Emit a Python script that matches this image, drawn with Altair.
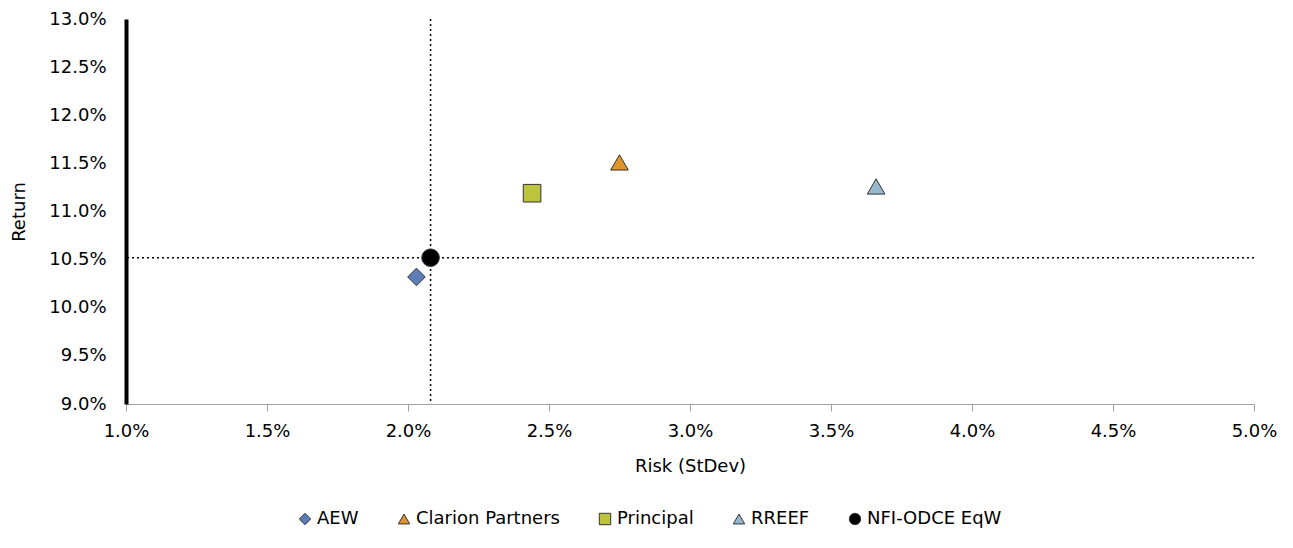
import altair as alt
import pandas as pd

managers = ["AEW", "Clarion Partners", "Principal", "RREEF", "NFI-ODCE EqW"]
risk = [0.0203, 0.0275, 0.0244, 0.0366, 0.0208]
ret = [0.1032, 0.1151, 0.1119, 0.1126, 0.1052]
colors = ["#5B7DB8", "#E0952A", "#BCC43F", "#95B8CA", "#000000"]
shapes = ["diamond", "triangle-up", "square", "triangle-up", "circle"]
x_ticks = [0.01, 0.015, 0.02, 0.025, 0.03, 0.035, 0.04, 0.045, 0.05]
y_ticks = [0.09, 0.095, 0.10, 0.105, 0.11, 0.115, 0.12, 0.125, 0.13]
bench_risk = risk[4]
bench_ret = ret[4]

df = pd.DataFrame({"Manager": managers, "Risk": risk, "Return": ret})
FONT = "DejaVu Sans"
FS = 18

xscale = alt.Scale(domain=[0.01, 0.05], nice=False, zero=False)
yscale = alt.Scale(domain=[0.09, 0.13], nice=False, zero=False)

points = alt.Chart(df).mark_point(filled=True, opacity=1, stroke="#333333", strokeWidth=1).encode(
    x=alt.X("Risk:Q", scale=xscale, title="Risk (StDev)",
            axis=alt.Axis(format=".1%", values=x_ticks,
                          grid=False, domainColor="#A0A0A0", tickColor="#A0A0A0", tickSize=7,
                          labelFlush=False, labelPadding=11, titlePadding=17)),
    y=alt.Y("Return:Q", scale=yscale, title="Return",
            axis=alt.Axis(format=".1%", values=y_ticks,
                          grid=False, domainColor="#000000", domainWidth=4, ticks=False,
                          labelFlush=False, labelPadding=20, titlePadding=20)),
    color=alt.Color("Manager:N", scale=alt.Scale(domain=managers, range=colors),
                    legend=alt.Legend(title=None, orient="none", direction="horizontal",
                                      legendX=170, legendY=491,
                                      symbolSize=130, symbolStrokeColor="#333333", symbolStrokeWidth=1,
                                      labelFontSize=FS, labelFont=FONT, labelColor="#000000",
                                      columnPadding=36, symbolOffset=0, labelOffset=3)),
    shape=alt.Shape("Manager:N", scale=alt.Scale(domain=managers, range=shapes)),
    size=alt.value(310),
)

vline = alt.Chart(pd.DataFrame({"x": [bench_risk]})).mark_rule(
    color="black", strokeDash=[2, 3], strokeWidth=1.5).encode(x=alt.X("x:Q", scale=xscale))
hline = alt.Chart(pd.DataFrame({"y": [bench_ret]})).mark_rule(
    color="black", strokeDash=[2, 3], strokeWidth=1.5).encode(y=alt.Y("y:Q", scale=yscale))

chart = alt.layer(vline, hline, points).properties(
    width=1128, height=385,
    padding={"left": 2, "top": 2, "right": 5, "bottom": 5},
).configure_view(stroke=None).configure_axis(
    labelFont=FONT, titleFont=FONT, labelFontSize=FS, titleFontSize=FS,
    labelColor="#000000", titleColor="#000000", titleFontWeight="normal"
)

chart.save("out.html", embed_options={"renderer": "svg", "actions": False})
